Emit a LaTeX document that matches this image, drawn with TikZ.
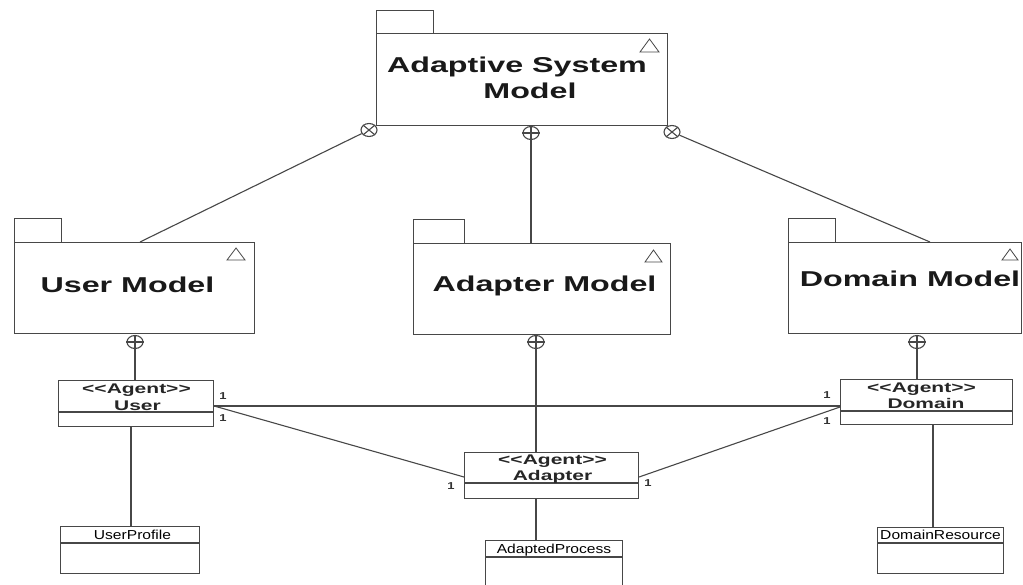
\documentclass[tikz,border=0pt]{standalone}
\usepackage{fontspec}
\usepackage{graphicx}
\setmainfont{Liberation Sans}
\usetikzlibrary{shapes.geometric}

% horizontally widened text
\newcommand{\widetxt}[2]{\scalebox{#1}[1]{#2}}
% stereotype guillemets written as doubled angle brackets
\newcommand{\stereo}[1]{<\kern0pt<#1>\kern0pt>}

\tikzset{
  ln/.style={line width=1.1pt, draw=black!72},
  box/.style={ln, fill=white, rectangle, inner sep=0pt, anchor=north west},
  pkgtitle/.style={font=\fontsize{21.5}{24}\selectfont\bfseries, text=black!90, inner sep=0pt, anchor=base},
  agenttxt/.style={font=\fontsize{14}{16}\selectfont\bfseries, text=black!85, inner sep=0pt, anchor=base},
  classtxt/.style={font=\fontsize{13}{15}\selectfont, text=black, inner sep=0pt, anchor=base},
  mult/.style={font=\fontsize{10}{11}\selectfont\bfseries, text=black!80, inner sep=0pt},
  joint/.style={ln, fill=white, ellipse, inner sep=0pt, minimum width=16pt, minimum height=13pt},
  tri/.style={line width=0.8pt, draw=black!72},
}

\begin{document}
\begin{tikzpicture}[x=1pt,y=-1pt]
\useasboundingbox (0,0) rectangle (1023,585);

% ---------- packages ----------
\node[box, minimum width=57pt, minimum height=23pt] (asmtab) at (376,10) {};
\node[box, minimum width=291pt, minimum height=92pt] (asm) at (376,33) {};
\node[pkgtitle] (asmt1) at (517,73) {\widetxt{1.5}{Adaptive System}};
\node[pkgtitle] (asmt2) at (530,99) {\widetxt{1.5}{Model}};
\draw[tri] (640,52) -- (649.5,39) -- (659,52) -- cycle;

\node[box, minimum width=47pt, minimum height=24pt] (umtab) at (14,218) {};
\node[box, minimum width=240pt, minimum height=91pt] (um) at (14,242) {};
\node[pkgtitle] (umt) at (127.5,293) {\widetxt{1.5}{User Model}};
\draw[tri] (227,260) -- (236,248) -- (245,260) -- cycle;

\node[box, minimum width=51pt, minimum height=24pt] (amtab) at (413,219) {};
\node[box, minimum width=257pt, minimum height=91pt] (am) at (413,243) {};
\node[pkgtitle] (amt) at (544.5,292) {\widetxt{1.5}{Adapter Model}};
\draw[tri] (645,262) -- (653.5,250) -- (662,262) -- cycle;

\node[box, minimum width=47pt, minimum height=24pt] (dmtab) at (788,218) {};
\node[box, minimum width=233pt, minimum height=91pt] (dm) at (788,242) {};
\node[pkgtitle] (dmt) at (910,287) {\widetxt{1.5}{Domain Model}};
\draw[tri] (1002,260) -- (1010,249) -- (1018,260) -- cycle;

% ---------- agent classes ----------
\node[box, minimum width=155pt, minimum height=46pt] (user) at (58,380) {};
\draw[ln] (user.west |- 0,412) -- (user.east |- 0,412);
\node[agenttxt] (usert1) at (136.5,393) {\widetxt{1.5}{\stereo{Agent}}};
\node[agenttxt] (usert2) at (137.5,410) {\widetxt{1.5}{User}};

\node[box, minimum width=174pt, minimum height=46pt] (adapter) at (464,452) {};
\draw[ln] (adapter.west |- 0,483) -- (adapter.east |- 0,483);
\node[agenttxt] (adt1) at (552.5,464) {\widetxt{1.5}{\stereo{Agent}}};
\node[agenttxt] (adt2) at (552.5,480) {\widetxt{1.5}{Adapter}};

\node[box, minimum width=172pt, minimum height=45pt] (domain) at (840,379) {};
\draw[ln] (domain.west |- 0,411) -- (domain.east |- 0,411);
\node[agenttxt] (dot1) at (921.5,392) {\widetxt{1.5}{\stereo{Agent}}};
\node[agenttxt] (dot2) at (926,408) {\widetxt{1.5}{Domain}};

% ---------- plain classes ----------
\node[box, minimum width=139pt, minimum height=47pt] (uprof) at (60,526) {};
\draw[ln] (uprof.west |- 0,543) -- (uprof.east |- 0,543);
\node[classtxt] (uproft) at (132.5,539) {\widetxt{1.2}{UserProfile}};

\node[box, minimum width=137pt, minimum height=60pt] (aproc) at (485,540) {};
\draw[ln] (aproc.west |- 0,557) -- (aproc.east |- 0,557);
\node[classtxt] (aproct) at (554,553) {\widetxt{1.2}{AdaptedProcess}};

\node[box, minimum width=126pt, minimum height=46pt] (dres) at (877,527) {};
\draw[ln] (dres.west |- 0,543) -- (dres.east |- 0,543);
\node[classtxt] (drest) at (940.5,539) {\widetxt{1.2}{DomainResource}};

% ---------- containment joints ----------
\node[joint] (jl) at (369,130) {};
\draw[ln] (jl.north east) -- (jl.south west) (jl.north west) -- (jl.south east);
\node[joint] (jm) at (531,133) {};
\draw[ln] (jm.north) -- (jm.south) (jm.west) -- (jm.east);
\node[joint] (jr) at (672,132) {};
\draw[ln] (jr.north east) -- (jr.south west) (jr.north west) -- (jr.south east);

\node[joint] (ju) at (135,342) {};
\draw[ln] (ju.north) -- (ju.south) (ju.west) -- (ju.east);
\node[joint] (ja) at (536,342) {};
\draw[ln] (ja.north) -- (ja.south) (ja.west) -- (ja.east);
\node[joint] (jd) at (917,342) {};
\draw[ln] (jd.north) -- (jd.south) (jd.west) -- (jd.east);

% ---------- connectors ----------
\coordinate (umtop) at (140,242);
\coordinate (dmtop) at (930,242);
\draw[ln] (jl) -- (umtop);
\draw[ln] (jr) -- (dmtop);
\draw[ln] (jm) -- (jm |- am.north);

\draw[ln] (ju) -- (ju |- user.north);
\draw[ln] (ja) -- (ja |- adapter.north);
\draw[ln] (jd) -- (jd |- domain.north);

\coordinate (uc) at (131,0);
\coordinate (ac) at (536,0);
\coordinate (dc) at (933,0);
\draw[ln] (uc |- user.south) -- (uc |- uprof.north);
\draw[ln] (ac |- adapter.south) -- (ac |- aproc.north);
\draw[ln] (dc |- domain.south) -- (dc |- dres.north);

\draw[ln] (user.east |- 0,406) -- (domain.west |- 0,406);
\draw[ln] (user.east |- 0,406) -- (adapter.west |- 0,477);
\draw[ln] (domain.west |- 0,407) -- (adapter.east |- 0,477);

% ---------- multiplicities ----------
\node[mult] (m1) at (223,396) {\widetxt{1.3}{1}};
\node[mult] (m2) at (223,418) {\widetxt{1.3}{1}};
\node[mult] (m3) at (451,486) {\widetxt{1.3}{1}};
\node[mult] (m4) at (648,483) {\widetxt{1.3}{1}};
\node[mult] (m5) at (827,395) {\widetxt{1.3}{1}};
\node[mult] (m6) at (827,421) {\widetxt{1.3}{1}};
\end{tikzpicture}
\end{document}
